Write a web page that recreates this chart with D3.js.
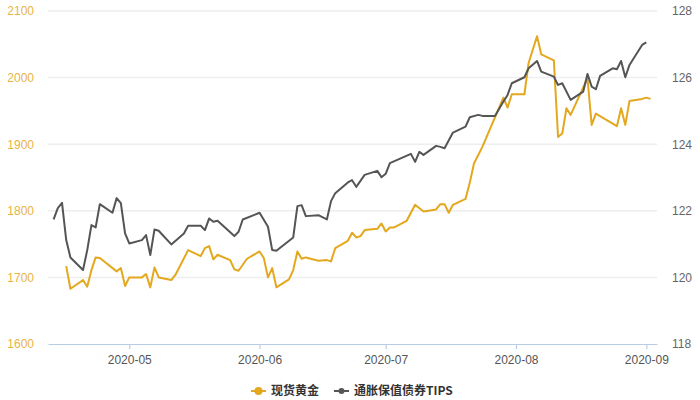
<!DOCTYPE html>
<html>
<head>
<meta charset="utf-8">
<script src="https://cdn.jsdelivr.net/npm/d3@7"></script>
<style>
  body { margin: 0; background: #fff; }
  text { font-family: "Liberation Sans", Arial, sans-serif; }
</style>
</head>
<body>
<div id="chart"></div>
<script>
// Width and height
var chartWidth  = 700;
var chartHeight = 400;
var margin = { top: 11, right: 43, bottom: 56, left: 48 };

// Data
var goldDates = [
  '2020-04-16','2020-04-17','2020-04-20','2020-04-21','2020-04-22','2020-04-23','2020-04-24',
  '2020-04-28','2020-04-29','2020-04-30','2020-05-01','2020-05-04','2020-05-05','2020-05-06',
  '2020-05-07','2020-05-08','2020-05-11','2020-05-12','2020-05-15','2020-05-18','2020-05-19',
  '2020-05-20','2020-05-21','2020-05-22','2020-05-25','2020-05-26','2020-05-27','2020-05-29',
  '2020-06-01','2020-06-02','2020-06-03','2020-06-04','2020-06-05','2020-06-08','2020-06-09',
  '2020-06-10','2020-06-11','2020-06-12','2020-06-15','2020-06-17','2020-06-18','2020-06-19',
  '2020-06-22','2020-06-23','2020-06-24','2020-06-25','2020-06-26','2020-06-29','2020-06-30',
  '2020-07-01','2020-07-02','2020-07-03','2020-07-06','2020-07-08','2020-07-10','2020-07-13',
  '2020-07-14','2020-07-15','2020-07-16','2020-07-17','2020-07-20','2020-07-21','2020-07-22',
  '2020-07-24','2020-07-29','2020-07-30','2020-07-31','2020-08-03','2020-08-04','2020-08-06',
  '2020-08-07','2020-08-10','2020-08-11','2020-08-12','2020-08-13','2020-08-14','2020-08-18',
  '2020-08-19','2020-08-20','2020-08-25','2020-08-26','2020-08-27','2020-08-28','2020-08-31',
  '2020-09-01','2020-09-02'
];
var goldValues = [
  1717,1683,1696,1686,1711,1730,1729,
  1709,1714,1687,1700,1700,1705,1685,
  1715,1700,1696,1704,1741,1732,1744,
  1747,1727,1734,1726,1712,1710,1728,
  1739,1729,1700,1714,1685,1697,1711,
  1739,1728,1730,1725,1726,1724,1744,
  1755,1767,1760,1762,1771,1773,1781,
  1769,1775,1775,1785,1809,1799,1802,
  1810,1810,1797,1809,1818,1842,1871,
  1896,1970,1955,1975,1975,2022,2062,
  2035,2026,1911,1916,1954,1944,1999,
  1929,1946,1927,1954,1929,1965,1968,
  1970,1968
];

var tipsDates = [
  '2020-04-13','2020-04-14','2020-04-15','2020-04-16','2020-04-17','2020-04-20','2020-04-21',
  '2020-04-22','2020-04-23','2020-04-24','2020-04-27','2020-04-28','2020-04-29','2020-04-30',
  '2020-05-01','2020-05-04','2020-05-05','2020-05-06','2020-05-07','2020-05-08','2020-05-11',
  '2020-05-14','2020-05-15','2020-05-18','2020-05-19','2020-05-20','2020-05-21','2020-05-22',
  '2020-05-26','2020-05-27','2020-05-28','2020-06-01','2020-06-03','2020-06-04','2020-06-05',
  '2020-06-09','2020-06-10','2020-06-11','2020-06-12','2020-06-15','2020-06-17','2020-06-18',
  '2020-06-19','2020-06-22','2020-06-23','2020-06-24','2020-06-26','2020-06-29','2020-06-30',
  '2020-07-01','2020-07-02','2020-07-07','2020-07-08','2020-07-09','2020-07-10','2020-07-13',
  '2020-07-14','2020-07-15','2020-07-17','2020-07-20','2020-07-21','2020-07-23','2020-07-24',
  '2020-07-27','2020-07-29','2020-07-30','2020-07-31','2020-08-03','2020-08-04','2020-08-06',
  '2020-08-07','2020-08-10','2020-08-11','2020-08-12','2020-08-14','2020-08-17','2020-08-18',
  '2020-08-19','2020-08-20','2020-08-21','2020-08-24','2020-08-25','2020-08-26','2020-08-27',
  '2020-08-28','2020-08-31','2020-09-01'
];
var tipsValues = [
  121.74,122.08,122.24,121.12,120.60,120.22,120.82,
  121.57,121.50,122.20,121.94,122.38,122.23,121.32,
  121.02,121.12,121.27,120.67,121.44,121.40,120.99,
  121.32,121.55,121.55,121.42,121.77,121.67,121.70,
  121.24,121.37,121.74,121.94,121.52,120.82,120.80,
  121.20,122.14,122.17,121.84,121.87,121.74,122.29,
  122.53,122.85,122.92,122.72,123.08,123.20,123.01,
  123.11,123.43,123.71,123.47,123.77,123.68,123.95,
  123.92,123.88,124.35,124.53,124.81,124.88,124.85,
  124.85,125.28,125.48,125.83,126.01,126.28,126.50,
  126.18,126.03,125.78,125.83,125.33,125.58,126.11,
  125.73,125.65,126.05,126.28,126.25,126.50,126.01,
  126.38,126.98,127.06
];

var leftTicks  = [1600, 1700, 1800, 1900, 2000, 2100];
var rightTicks = [118, 120, 122, 124, 126, 128];
var seriesNames = ['现货黄金', '通胀保值债券TIPS'];

var goldColor = '#e3a81e';
var tipsColor = '#555555';

var parseDate = d3.timeParse('%Y-%m-%d');
var goldData = goldDates.map(function(d, i){ return { date: parseDate(d), value: goldValues[i] }; });
var tipsData = tipsDates.map(function(d, i){ return { date: parseDate(d), value: tipsValues[i] }; });

var innerW = chartWidth - margin.left - margin.right;
var innerH = chartHeight - margin.top - margin.bottom;

// Scales
var x = d3.scaleTime()
    .domain([new Date(2020, 3, 11, 16), new Date(2020, 8, 3, 13)])
    .range([margin.left, margin.left + innerW]);
var yLeft = d3.scaleLinear().domain([1600, 2100]).range([margin.top + innerH, margin.top]);
var yRight = d3.scaleLinear().domain([118, 128]).range([margin.top + innerH, margin.top]);

// Create SVG
var svg = d3.select('#chart')
    .append('svg')
    .attr('width', chartWidth)
    .attr('height', chartHeight);

// Grid lines
svg.append('g')
    .selectAll('line')
    .data(leftTicks.slice(1))
    .enter()
    .append('line')
    .attr('x1', margin.left)
    .attr('x2', margin.left + innerW)
    .attr('y1', function(d){ return yLeft(d); })
    .attr('y2', function(d){ return yLeft(d); })
    .attr('stroke', '#eeeeee')
    .attr('stroke-width', 1.5);

// Left axis labels
var leftAxis = d3.axisLeft(yLeft)
    .tickValues(leftTicks)
    .tickFormat(d3.format('d'))
    .tickSize(0)
    .tickPadding(14);
var gl = svg.append('g')
    .attr('transform', 'translate(' + margin.left + ',0)')
    .call(leftAxis);
gl.select('.domain').remove();
gl.selectAll('text')
    .attr('fill', '#e8b443')
    .style('font-size', '12px');

// Right axis labels
var rightAxis = d3.axisRight(yRight).tickValues(rightTicks).tickSize(0).tickPadding(15);
var gr = svg.append('g')
    .attr('transform', 'translate(' + (margin.left + innerW) + ',0)')
    .call(rightAxis);
gr.select('.domain').remove();
gr.selectAll('text')
    .attr('fill', '#666')
    .style('font-size', '12px');

// Bottom axis
var bottomAxis = d3.axisBottom(x)
    .ticks(d3.timeMonth.every(1))
    .tickFormat(d3.timeFormat('%Y-%m'))
    .tickSizeInner(5)
    .tickSizeOuter(0)
    .tickPadding(6);
var gb = svg.append('g')
    .attr('transform', 'translate(0,' + (margin.top + innerH) + ')')
    .call(bottomAxis);
gb.select('.domain').attr('stroke', '#b8cde3').attr('stroke-width', 1.2);
gb.selectAll('.tick line').attr('stroke', '#b8cde3').attr('stroke-width', 1.2);
gb.selectAll('text')
    .attr('fill', '#555')
    .style('font-size', '12px');

// Lines
var goldLine = d3.line()
    .x(function(d){ return x(d.date); })
    .y(function(d){ return yLeft(d.value); });
var tipsLine = d3.line()
    .x(function(d){ return x(d.date); })
    .y(function(d){ return yRight(d.value); });

svg.append('path')
    .datum(goldData)
    .attr('d', goldLine)
    .attr('fill', 'none')
    .attr('stroke', goldColor)
    .attr('stroke-width', 2)
    .attr('stroke-linejoin', 'round');

svg.append('path')
    .datum(tipsData)
    .attr('d', tipsLine)
    .attr('fill', 'none')
    .attr('stroke', tipsColor)
    .attr('stroke-width', 2)
    .attr('stroke-linejoin', 'round');

// Legend
var legendItems = [
    { name: seriesNames[0], color: goldColor, x: 251, r: 4 },
    { name: seriesNames[1], color: tipsColor, x: 334, r: 3 }
];
var legend = svg.append('g')
    .selectAll('g')
    .data(legendItems)
    .enter()
    .append('g')
    .attr('transform', function(d){ return 'translate(' + d.x + ',391)'; });
legend.append('line')
    .attr('x1', 0).attr('x2', 15)
    .attr('y1', 0).attr('y2', 0)
    .attr('stroke', function(d){ return d.color; })
    .attr('stroke-width', 2);
legend.append('circle')
    .attr('cx', 7.5).attr('cy', 0)
    .attr('r', function(d){ return d.r; })
    .attr('fill', function(d){ return d.color; });
legend.append('text')
    .attr('x', 20)
    .attr('y', 0)
    .attr('dy', '0.35em')
    .attr('fill', '#333')
    .style('font-size', '12px')
    .style('font-weight', 'bold')
    .style('font-family', '"Noto Sans CJK SC", sans-serif')
    .text(function(d){ return d.name; });
</script>
</body>
</html>
